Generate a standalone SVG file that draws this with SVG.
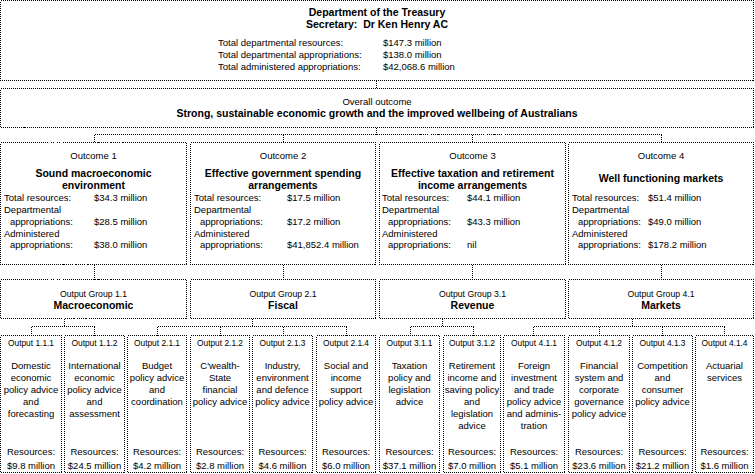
<svg xmlns="http://www.w3.org/2000/svg" width="755" height="474" viewBox="0 0 755 474">
<style>
.box{fill:#fff;stroke:#000;stroke-width:1;stroke-dasharray:1 1;shape-rendering:crispEdges}
.con{fill:none;stroke:#000;stroke-width:1;stroke-dasharray:1 1;shape-rendering:crispEdges}
text{font-family:"Liberation Sans",Arial,sans-serif;font-size:9.5px;fill:#000}
.b{font-weight:bold;font-size:10.5px}
.c{text-anchor:middle}
</style>
<rect width="755" height="474" fill="#fff"/>
<g id="connectors">
<path class="con" d="M376.5 80.5V88.5M376.5 127.5V134.5M94.5 134.5H661.5M94.5 134.5V142.5M283.5 134.5V142.5M472.5 134.5V142.5M661.5 134.5V142.5"/>
<path class="con" d="M94.5 264.5V279.5M283.5 264.5V279.5M472.5 264.5V279.5M661.5 264.5V279.5"/>
<path class="con" d="M64.5 318.5V326.5M31.5 326.5H94.5M31.5 326.5V335.5M94.5 326.5V335.5"/>
<path class="con" d="M252.5 318.5V326.5M157.5 326.5H346.5M157.5 326.5V335.5M220.5 326.5V335.5M283.5 326.5V335.5M346.5 326.5V335.5"/>
<path class="con" d="M442.5 318.5V326.5M410.5 326.5H473.5M410.5 326.5V335.5M473.5 326.5V335.5"/>
<path class="con" d="M632.5 318.5V326.5M533.5 326.5H724.5M533.5 326.5V335.5M599.5 326.5V335.5M662.5 326.5V335.5M724.5 326.5V335.5"/>
</g>
<g id="dept">
<rect class="box" x="0.5" y="0.5" width="753" height="80"/>
<text class="b c" x="377" y="16">Department of the Treasury</text>
<text class="b c" x="377" y="28" xml:space="preserve">Secretary:  Dr Ken Henry AC</text>
<text x="218" y="46">Total departmental resources:</text><text x="383" y="46">$147.3 million</text>
<text x="218" y="58">Total departmental appropriations:</text><text x="383" y="58">$138.0 million</text>
<text x="218" y="70">Total administered appropriations:</text><text x="383" y="70">$42,068.6 million</text>
</g>
<g id="overall">
<rect class="box" x="0.5" y="88.5" width="753" height="39"/>
<text class="c" x="377" y="105">Overall outcome</text>
<text class="b c" x="377" y="117">Strong, sustainable economic growth and the improved wellbeing of Australians</text>
</g>
<g id="outcome1">
<rect class="box" x="0.5" y="142.5" width="186" height="122"/>
<text class="c" x="93.5" y="159">Outcome 1</text>
<text class="b c" x="93.5" y="177">Sound macroeconomic</text>
<text class="b c" x="93.5" y="189">environment</text>
<text x="4" y="201">Total resources:</text><text x="94" y="201">$34.3 million</text>
<text x="4" y="213">Departmental</text>
<text x="10" y="224.5">appropriations:</text><text x="94" y="224.5">$28.5 million</text>
<text x="4" y="236.5">Administered</text>
<text x="10" y="248">appropriations:</text><text x="94" y="248">$38.0 million</text>
</g>
<g id="outcome2">
<rect class="box" x="190.5" y="142.5" width="185" height="122"/>
<text class="c" x="283" y="159">Outcome 2</text>
<text class="b c" x="283" y="177">Effective government spending</text>
<text class="b c" x="283" y="189">arrangements</text>
<text x="194" y="201">Total resources:</text><text x="287" y="201">$17.5 million</text>
<text x="194" y="213">Departmental</text>
<text x="200" y="224.5">appropriations:</text><text x="287" y="224.5">$17.2 million</text>
<text x="194" y="236.5">Administered</text>
<text x="200" y="248">appropriations:</text><text x="287" y="248">$41,852.4 million</text>
</g>
<g id="outcome3">
<rect class="box" x="379.5" y="142.5" width="186" height="122"/>
<text class="c" x="472.5" y="159">Outcome 3</text>
<text class="b c" x="472.5" y="177">Effective taxation and retirement</text>
<text class="b c" x="472.5" y="189">income arrangements</text>
<text x="382" y="201">Total resources:</text><text x="467" y="201">$44.1 million</text>
<text x="382" y="213">Departmental</text>
<text x="388" y="224.5">appropriations:</text><text x="467" y="224.5">$43.3 million</text>
<text x="382" y="236.5">Administered</text>
<text x="388" y="248">appropriations:</text><text x="467" y="248">nil</text>
</g>
<g id="outcome4">
<rect class="box" x="568.5" y="142.5" width="185" height="122"/>
<text class="c" x="661" y="159">Outcome 4</text>
<text class="b c" x="661" y="182">Well functioning markets</text>
<text x="572" y="201">Total resources:</text><text x="648" y="201">$51.4 million</text>
<text x="572" y="213">Departmental</text>
<text x="578" y="224.5">appropriations:</text><text x="648" y="224.5">$49.0 million</text>
<text x="572" y="236.5">Administered</text>
<text x="578" y="248">appropriations:</text><text x="648" y="248">$178.2 million</text>
</g>
<g id="group1-1">
<rect class="box" x="0.5" y="279.5" width="186" height="39"/>
<text class="c" x="93.5" y="297" textLength="67" lengthAdjust="spacingAndGlyphs">Output Group 1.1</text>
<text class="b c" x="93.5" y="309">Macroeconomic</text>
</g>
<g id="group2-1">
<rect class="box" x="190.5" y="279.5" width="185" height="39"/>
<text class="c" x="283" y="297" textLength="67" lengthAdjust="spacingAndGlyphs">Output Group 2.1</text>
<text class="b c" x="283" y="309">Fiscal</text>
</g>
<g id="group3-1">
<rect class="box" x="379.5" y="279.5" width="186" height="39"/>
<text class="c" x="472.5" y="297" textLength="67" lengthAdjust="spacingAndGlyphs">Output Group 3.1</text>
<text class="b c" x="472.5" y="309">Revenue</text>
</g>
<g id="group4-1">
<rect class="box" x="568.5" y="279.5" width="185" height="39"/>
<text class="c" x="661" y="297" textLength="67" lengthAdjust="spacingAndGlyphs">Output Group 4.1</text>
<text class="b c" x="661" y="309">Markets</text>
</g>
<g id="output1-1-1">
<rect class="box" x="0.5" y="335.5" width="61" height="137"/>
<text class="c" x="31" y="346" textLength="46" lengthAdjust="spacingAndGlyphs">Output 1.1.1</text>
<text class="c" x="31" y="369">Domestic</text>
<text class="c" x="31" y="381">economic</text>
<text class="c" x="31" y="393">policy advice</text>
<text class="c" x="31" y="405">and</text>
<text class="c" x="31" y="417">forecasting</text>
<text class="c" x="31" y="455">Resources:</text>
<text class="c" x="31" y="469">$9.8 million</text>
</g>
<g id="output1-1-2">
<rect class="box" x="64.5" y="335.5" width="60" height="137"/>
<text class="c" x="94.5" y="346" textLength="46" lengthAdjust="spacingAndGlyphs">Output 1.1.2</text>
<text class="c" x="94.5" y="369">International</text>
<text class="c" x="94.5" y="381">economic</text>
<text class="c" x="94.5" y="393">policy advice</text>
<text class="c" x="94.5" y="405">and</text>
<text class="c" x="94.5" y="417">assessment</text>
<text class="c" x="94.5" y="455">Resources:</text>
<text class="c" x="94.5" y="469">$24.5 million</text>
</g>
<g id="output2-1-1">
<rect class="box" x="127.5" y="335.5" width="59" height="137"/>
<text class="c" x="157" y="346" textLength="46" lengthAdjust="spacingAndGlyphs">Output 2.1.1</text>
<text class="c" x="157" y="369">Budget</text>
<text class="c" x="157" y="381">policy advice</text>
<text class="c" x="157" y="393">and</text>
<text class="c" x="157" y="405">coordination</text>
<text class="c" x="157" y="455">Resources:</text>
<text class="c" x="157" y="469">$4.2 million</text>
</g>
<g id="output2-1-2">
<rect class="box" x="190.5" y="335.5" width="59" height="137"/>
<text class="c" x="220" y="346" textLength="46" lengthAdjust="spacingAndGlyphs">Output 2.1.2</text>
<text class="c" x="220" y="369">C'wealth-</text>
<text class="c" x="220" y="381">State</text>
<text class="c" x="220" y="393">financial</text>
<text class="c" x="220" y="405">policy advice</text>
<text class="c" x="220" y="455">Resources:</text>
<text class="c" x="220" y="469">$2.8 million</text>
</g>
<g id="output2-1-3">
<rect class="box" x="252.5" y="335.5" width="60" height="137"/>
<text class="c" x="282.5" y="346" textLength="46" lengthAdjust="spacingAndGlyphs">Output 2.1.3</text>
<text class="c" x="282.5" y="369">Industry,</text>
<text class="c" x="282.5" y="381">environment</text>
<text class="c" x="282.5" y="393">and defence</text>
<text class="c" x="282.5" y="405">policy advice</text>
<text class="c" x="282.5" y="455">Resources:</text>
<text class="c" x="282.5" y="469">$4.6 million</text>
</g>
<g id="output2-1-4">
<rect class="box" x="316.5" y="335.5" width="59" height="137"/>
<text class="c" x="346" y="346" textLength="46" lengthAdjust="spacingAndGlyphs">Output 2.1.4</text>
<text class="c" x="346" y="369">Social and</text>
<text class="c" x="346" y="381">income</text>
<text class="c" x="346" y="393">support</text>
<text class="c" x="346" y="405">policy advice</text>
<text class="c" x="346" y="455">Resources:</text>
<text class="c" x="346" y="469">$6.0 million</text>
</g>
<g id="output3-1-1">
<rect class="box" x="379.5" y="335.5" width="60" height="137"/>
<text class="c" x="409.5" y="346" textLength="46" lengthAdjust="spacingAndGlyphs">Output 3.1.1</text>
<text class="c" x="409.5" y="369">Taxation</text>
<text class="c" x="409.5" y="381">policy and</text>
<text class="c" x="409.5" y="393">legislation</text>
<text class="c" x="409.5" y="405">advice</text>
<text class="c" x="409.5" y="455">Resources:</text>
<text class="c" x="409.5" y="469">$37.1 million</text>
</g>
<g id="output3-1-2">
<rect class="box" x="443.5" y="335.5" width="57" height="137"/>
<text class="c" x="472" y="346" textLength="46" lengthAdjust="spacingAndGlyphs">Output 3.1.2</text>
<text class="c" x="472" y="369">Retirement</text>
<text class="c" x="472" y="381">income and</text>
<text class="c" x="472" y="393">saving policy</text>
<text class="c" x="472" y="405">and</text>
<text class="c" x="472" y="417">legislation</text>
<text class="c" x="472" y="429">advice</text>
<text class="c" x="472" y="455">Resources:</text>
<text class="c" x="472" y="469">$7.0 million</text>
</g>
<g id="output4-1-1">
<rect class="box" x="503.5" y="335.5" width="61" height="137"/>
<text class="c" x="534" y="346" textLength="46" lengthAdjust="spacingAndGlyphs">Output 4.1.1</text>
<text class="c" x="534" y="369">Foreign</text>
<text class="c" x="534" y="381">investment</text>
<text class="c" x="534" y="393">and trade</text>
<text class="c" x="534" y="405">policy advice</text>
<text class="c" x="534" y="417">and adminis-</text>
<text class="c" x="534" y="429">tration</text>
<text class="c" x="534" y="455">Resources:</text>
<text class="c" x="534" y="469">$5.1 million</text>
</g>
<g id="output4-1-2">
<rect class="box" x="568.5" y="335.5" width="61" height="137"/>
<text class="c" x="599" y="346" textLength="46" lengthAdjust="spacingAndGlyphs">Output 4.1.2</text>
<text class="c" x="599" y="369">Financial</text>
<text class="c" x="599" y="381">system and</text>
<text class="c" x="599" y="393">corporate</text>
<text class="c" x="599" y="405">governance</text>
<text class="c" x="599" y="417">policy advice</text>
<text class="c" x="599" y="455">Resources:</text>
<text class="c" x="599" y="469">$23.6 million</text>
</g>
<g id="output4-1-3">
<rect class="box" x="632.5" y="335.5" width="60" height="137"/>
<text class="c" x="662.5" y="346" textLength="46" lengthAdjust="spacingAndGlyphs">Output 4.1.3</text>
<text class="c" x="662.5" y="369">Competition</text>
<text class="c" x="662.5" y="381">and</text>
<text class="c" x="662.5" y="393">consumer</text>
<text class="c" x="662.5" y="405">policy advice</text>
<text class="c" x="662.5" y="455">Resources:</text>
<text class="c" x="662.5" y="469">$21.2 million</text>
</g>
<g id="output4-1-4">
<rect class="box" x="695.5" y="335.5" width="58" height="137"/>
<text class="c" x="724.5" y="346" textLength="46" lengthAdjust="spacingAndGlyphs">Output 4.1.4</text>
<text class="c" x="724.5" y="369">Actuarial</text>
<text class="c" x="724.5" y="381">services</text>
<text class="c" x="724.5" y="455">Resources:</text>
<text class="c" x="724.5" y="469">$1.6 million</text>
</g>
</svg>
